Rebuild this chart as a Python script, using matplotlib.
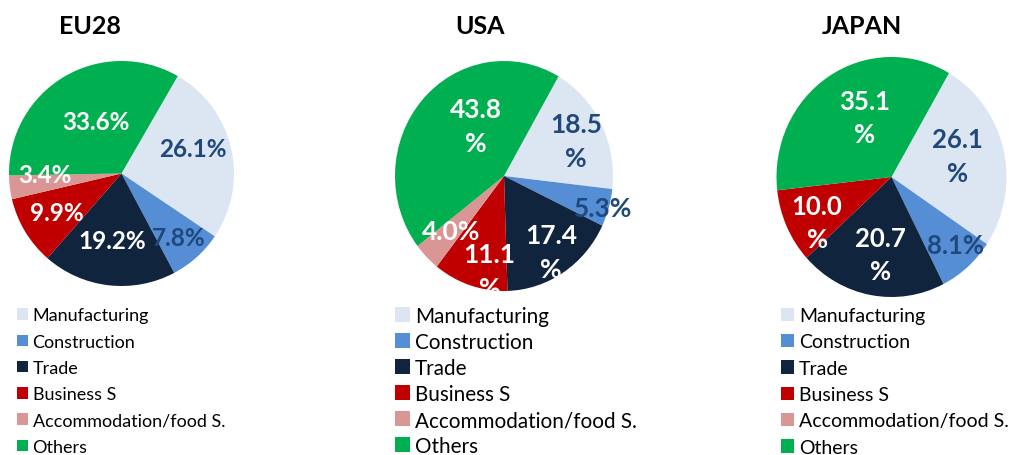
import numpy as np
import matplotlib
matplotlib.use('Agg')
import matplotlib.pyplot as plt

plt.rcParams['font.family'] = ['Lato', 'DejaVu Sans']

# data
sectors = ['Manufacturing', 'Construction', 'Trade', 'Business S',
           'Accommodation/food S.', 'Others']
eu28 = [26.1, 7.8, 19.2, 9.9, 3.4, 33.6]
usa = [18.5, 5.3, 17.4, 11.1, 4.0, 43.8]
japan = [26.1, 8.1, 20.7, 10.0, 0.0, 35.1]
titles = ['EU28', 'USA', 'JAPAN']

colors = ['#DCE6F2', '#558ED5', '#10243E', '#C00000', '#D99694', '#00B050']
label_colors = ['#1F497D', '#1F497D', 'white', 'white', 'white', 'white']

W, H = 1009, 456
fig = plt.figure(figsize=(W / 100, H / 100), dpi=100)

# layout per chart: pie centre / radii in pixels, label tweaks, legend
charts = [
    dict(values=eu28, title=titles[0], c=(121.5, 174.5), r=(112.5, 112.5),
         title_x=90,
         lab_r=[0.67, 0.76, 0.60, 0.67, 0.68, 0.52],
         lab_da=[6, 0, -1, 0, -6, -4],
         wrap=[False] * 6, lab_fs=17.5, ls=1.4,
         leg_xy=(17, 308.5), leg_fs=13, leg_h=0.61, leg_ls=0.567),
    dict(values=usa, title=titles[1], c=(504, 177), r=(109, 115),
         title_x=480,
         lab_r=[0.73, 0.95, 0.79, 0.84, 0.68, 0.51],
         lab_da=[-2, -1, 0, 9, 0, -18],
         wrap=[True, False, True, True, False, True], lab_fs=19, ls=1.49,
         leg_xy=(395, 307), leg_fs=14.9, leg_h=0.72, leg_ls=0.29),
    dict(values=japan, title=titles[2], c=(891.5, 178), r=(115, 120),
         title_x=862,
         lab_r=[0.60, 0.79, 0.65, 0.75, 0.7, 0.55],
         lab_da=[4, 3, 2, 6, 0, -8],
         wrap=[True, False, True, True, False, True], lab_fs=18.5, ls=1.46,
         leg_xy=(781, 308), leg_fs=14, leg_h=0.67, leg_ls=0.482),
]

for ch in charts:
    cx, cy = ch['c']
    rx, ry = ch['r']
    ax = fig.add_axes([(cx - rx) / W, (H - cy - ry) / H, 2 * rx / W, 2 * ry / H])
    wedges, _ = ax.pie(ch['values'], colors=colors, startangle=60,
                       counterclock=False, radius=1,
                       wedgeprops=dict(linewidth=0))
    ax.set_aspect('auto')
    ax.set_xlim(-1, 1)
    ax.set_ylim(-1, 1)
    ax.axis('off')

    for i, (w, v) in enumerate(zip(wedges, ch['values'])):
        if v == 0:
            continue
        ang = np.radians((w.theta1 + w.theta2) / 2 + ch['lab_da'][i])
        rr = ch['lab_r'][i]
        txt = f'{v:.1f}\n%' if ch['wrap'][i] else f'{v:.1f}%'
        ax.text(rr * np.cos(ang), rr * np.sin(ang), txt, ha='center',
                va='center', fontsize=ch['lab_fs'], fontweight='bold',
                color=label_colors[i], linespacing=ch['ls'],
                multialignment='center')

    fig.text(ch['title_x'] / W, 1 - 26 / H, ch['title'], ha='center',
             va='center', fontsize=18, fontweight='bold', color='black')

    if ch is charts[0]:
        handles = wedges

    lx, ly = ch['leg_xy']
    fig.legend(handles, sectors, loc='upper left',
               bbox_to_anchor=(lx / W, 1 - ly / H), frameon=False,
               fontsize=ch['leg_fs'], handlelength=ch['leg_h'],
               handleheight=ch['leg_h'], handletextpad=0.25,
               labelspacing=ch['leg_ls'], borderpad=0, borderaxespad=0)

fig.savefig('out.png', dpi=100)
